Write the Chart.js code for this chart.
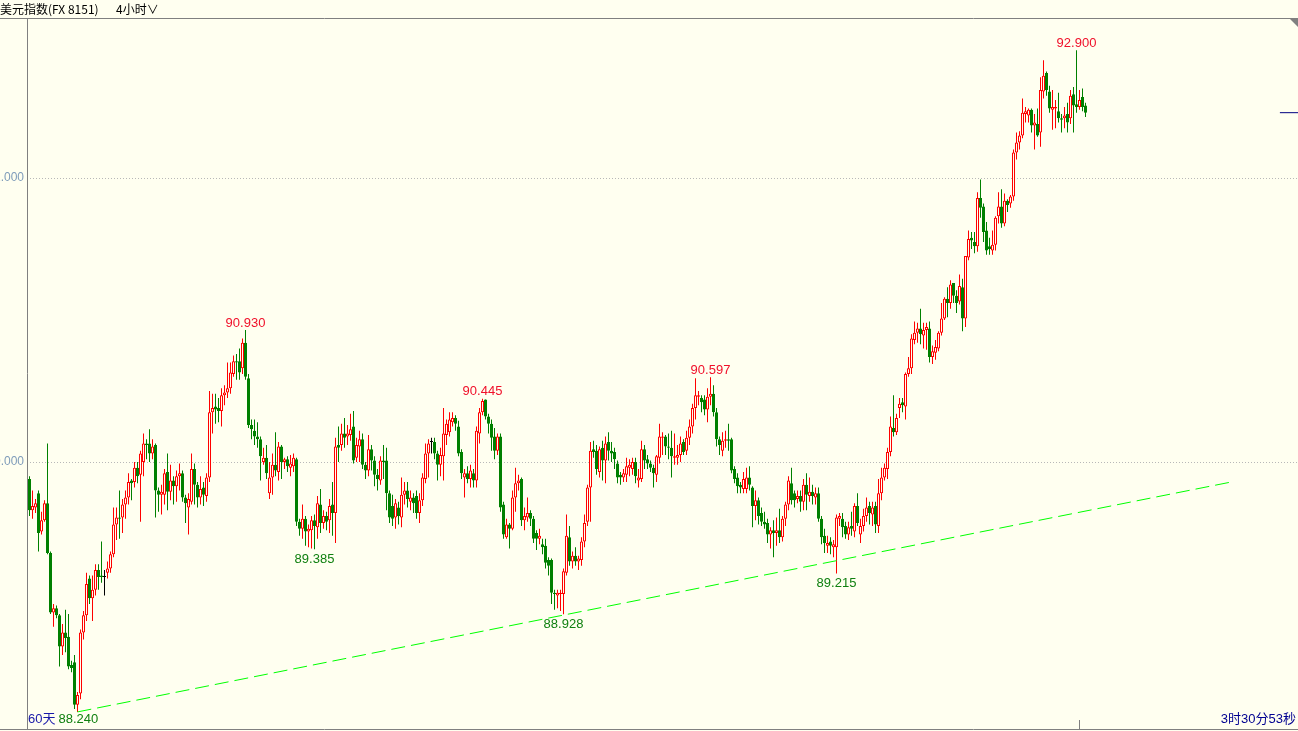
<!DOCTYPE html>
<html>
<head>
<meta charset="utf-8">
<title>美元指数 4小时</title>
<script src="https://cdn.jsdelivr.net/npm/chart.js@4.4.1/dist/chart.umd.min.js"></script>
<style>
  html, body { margin: 0; padding: 0; background: #fffff0; overflow: hidden; }
  canvas { display: block; }
</style>
</head>
<body>
<canvas id="kline" width="1298" height="731"></canvas>
<script>
// 4h candles of the dollar index, oldest first
const openPrices = [
  89.88, 89.66, 89.68, 89.78, 89.51, 89.59, 89.71, 89.36, 88.94, 88.97,
  88.92, 88.70, 88.80, 88.77, 88.57, 88.59, 88.29, 88.37, 88.80, 88.92,
  89.18, 89.04, 89.10, 89.24, 89.20, 89.19, 89.22, 89.25, 89.35, 89.56,
  89.61, 89.61, 89.70, 89.75, 89.87, 89.86, 89.96, 89.91, 90.00, 90.13,
  90.13, 90.06, 90.12, 89.80, 89.77, 89.77, 89.93, 89.79, 89.87, 89.83,
  89.90, 89.92, 89.75, 89.68, 89.72, 89.95, 89.84, 89.75, 89.82, 89.76,
  89.89, 90.35, 90.39, 90.38, 90.36, 90.47, 90.49, 90.52, 90.62, 90.71,
  90.71, 90.66, 90.84, 90.59, 90.26, 90.22, 90.18, 90.16, 90.00, 90.03,
  89.78, 89.89, 89.98, 89.93, 90.11, 90.00, 90.02, 89.96, 89.97, 90.02,
  89.58, 89.53, 89.60, 89.51, 89.52, 89.59, 89.54, 89.70, 89.57, 89.62,
  89.59, 89.70, 89.64, 90.12, 90.12, 90.20, 90.18, 90.19, 90.25, 90.03,
  90.11, 90.16, 89.98, 89.94, 90.09, 90.01, 89.91, 89.87, 90.01, 90.01,
  89.78, 89.69, 89.61, 89.68, 89.61, 89.77, 89.80, 89.72, 89.75, 89.76,
  89.64, 89.73, 89.88, 90.06, 90.14, 90.14, 90.06, 89.98, 90.04, 90.19,
  90.21, 90.28, 90.31, 90.25, 90.07, 89.89, 89.92, 89.88, 89.92, 89.87,
  90.20, 90.35, 90.44, 90.32, 90.27, 90.18, 90.08, 90.18, 89.70, 89.47,
  89.56, 89.53, 89.75, 89.85, 89.88, 89.59, 89.61, 89.64, 89.60, 89.50,
  89.46, 89.42, 89.41, 89.31, 89.31, 89.08, 89.06, 89.07, 89.07, 89.22,
  89.47, 89.30, 89.34, 89.30, 89.31, 89.44, 89.58, 89.82, 90.09, 90.08,
  89.93, 90.10, 90.01, 90.14, 90.08, 90.07, 89.99, 89.91, 89.89, 89.91,
  89.96, 89.95, 90.00, 89.87, 89.88, 90.09, 90.02, 89.99, 89.96, 89.91,
  90.03, 90.17, 90.18, 90.11, 90.10, 90.03, 90.03, 90.05, 90.14, 90.08,
  90.17, 90.25, 90.38, 90.46, 90.45, 90.44, 90.37, 90.46, 90.48, 90.35,
  90.16, 90.08, 90.15, 90.16, 90.16, 89.95, 89.89, 89.84, 89.81, 89.81,
  89.89, 89.82, 89.69, 89.73, 89.64, 89.58, 89.57, 89.49, 89.52, 89.50,
  89.52, 89.47, 89.60, 89.70, 89.85, 89.78, 89.74, 89.76, 89.72, 89.84,
  89.76, 89.79, 89.75, 89.78, 89.60, 89.48, 89.41, 89.44, 89.40,
  89.40, 89.60, 89.60, 89.55, 89.49, 89.55, 89.51, 89.69, 89.49, 89.55,
  89.62, 89.69, 89.63, 89.69, 89.55, 89.78, 89.89, 89.95, 90.07,
  90.24, 90.21, 90.38, 90.42, 90.39, 90.62, 90.66, 90.86, 90.91, 90.94,
  90.89, 90.93, 90.94, 90.74, 90.77, 90.80, 90.91, 91.01, 91.15, 91.12,
  91.26, 91.17, 91.13, 91.23, 91.01, 91.44, 91.58, 91.55, 91.52, 91.86,
  91.80, 91.63, 91.52, 91.49, 91.53, 91.73, 91.80, 91.68, 91.84, 91.82,
  91.87, 92.18, 92.25, 92.30, 92.45, 92.44, 92.48, 92.37, 92.38, 92.32,
  92.61, 92.74, 92.61, 92.48, 92.49, 92.47, 92.42, 92.42, 92.45, 92.42,
  92.59, 92.52, 92.50, 92.57, 92.51
];
const highPrices = [
  89.90, 89.80, 89.74, 89.80, 89.65, 89.73, 90.13, 89.37, 89.00, 88.99,
  88.93, 88.86, 88.96, 88.93, 88.60, 88.64, 88.38, 88.82, 88.95, 89.22,
  89.20, 89.20, 89.28, 89.28, 89.44, 89.24, 89.30, 89.37, 89.68, 89.68,
  89.80, 89.74, 89.80, 89.92, 89.88, 90.00, 90.00, 90.08, 90.20, 90.16,
  90.23, 90.16, 90.13, 89.82, 89.84, 89.95, 90.06, 89.98, 89.90, 89.94,
  89.99, 89.94, 89.77, 89.78, 90.06, 89.99, 89.86, 89.90, 89.86, 89.92,
  90.50, 90.48, 90.48, 90.45, 90.52, 90.54, 90.70, 90.70, 90.75, 90.76,
  90.80, 90.87, 90.93, 90.62, 90.30, 90.30, 90.28, 90.18, 90.10, 90.12,
  90.00, 90.06, 90.21, 90.14, 90.12, 90.03, 90.04, 90.05, 90.06, 90.03,
  89.60, 89.70, 89.62, 89.56, 89.62, 89.63, 89.76, 89.81, 89.66, 89.65,
  89.74, 89.86, 90.17, 90.25, 90.27, 90.31, 90.26, 90.34, 90.36, 90.17,
  90.22, 90.20, 90.00, 90.19, 90.12, 90.04, 89.95, 90.04, 90.12, 90.10,
  89.80, 89.77, 89.74, 89.72, 89.89, 89.86, 89.86, 89.80, 89.78, 89.80,
  89.78, 89.92, 90.13, 90.16, 90.17, 90.17, 90.08, 90.10, 90.38, 90.30,
  90.35, 90.35, 90.33, 90.29, 90.09, 89.95, 89.97, 89.98, 89.95, 90.25,
  90.38, 90.445, 90.44, 90.34, 90.30, 90.24, 90.20, 90.20, 89.72, 89.60,
  89.57, 89.80, 89.96, 89.91, 89.89, 89.68, 89.75, 89.66, 89.62, 89.52,
  89.53, 89.46, 89.46, 89.33, 89.32, 89.10, 89.10, 89.10, 89.25, 89.63,
  89.55, 89.37, 89.40, 89.34, 89.47, 89.63, 89.84, 90.14, 90.15, 90.12,
  90.11, 90.15, 90.18, 90.21, 90.14, 90.10, 90.01, 89.93, 89.95, 90.03,
  90.02, 90.03, 90.03, 89.95, 90.15, 90.12, 90.05, 90.01, 89.98, 90.05,
  90.27, 90.21, 90.19, 90.20, 90.22, 90.20, 90.12, 90.18, 90.16, 90.22,
  90.30, 90.41, 90.59, 90.50, 90.47, 90.47, 90.52, 90.597, 90.54, 90.38,
  90.18, 90.21, 90.22, 90.27, 90.17, 89.97, 89.92, 89.86, 89.93, 89.96,
  89.97, 89.83, 89.80, 89.75, 89.68, 89.65, 89.60, 89.54, 89.59, 89.61,
  89.67, 89.62, 89.72, 89.90, 89.96, 89.80, 89.80, 89.80, 89.88, 89.92,
  89.89, 89.84, 89.82, 89.82, 89.62, 89.53, 89.48, 89.47, 89.45,
  89.63, 89.64, 89.64, 89.58, 89.58, 89.65, 89.71, 89.78, 89.60, 89.67,
  89.75, 89.72, 89.72, 89.72, 89.88, 89.96, 89.99, 90.10, 90.32,
  90.47, 90.34, 90.45, 90.45, 90.63, 90.74, 90.90, 90.99, 90.98, 91.08,
  90.98, 90.98, 90.99, 90.82, 90.86, 90.92, 91.12, 91.16, 91.23, 91.28,
  91.26, 91.21, 91.32, 91.29, 91.45, 91.63, 91.62, 91.62, 91.90, 91.99,
  91.82, 91.69, 91.58, 91.63, 91.73, 91.90, 91.92, 91.89, 91.85, 91.88,
  92.20, 92.32, 92.33, 92.56, 92.50, 92.49, 92.49, 92.45, 92.49, 92.71,
  92.83, 92.75, 92.65, 92.62, 92.55, 92.60, 92.45, 92.50, 92.53, 92.62,
  92.64, 92.90, 92.62, 92.63, 92.53
];
const lowPrices = [
  89.62, 89.60, 89.64, 89.37, 89.49, 89.58, 89.35, 88.93, 88.84, 88.90,
  88.56, 88.64, 88.66, 88.54, 88.52, 88.26, 88.24, 88.33, 88.75, 88.88,
  89.00, 88.88, 89.06, 89.10, 89.15, 89.06, 89.18, 89.22, 89.33, 89.45,
  89.46, 89.50, 89.60, 89.70, 89.73, 89.82, 89.85, 89.58, 89.90, 90.02,
  90.00, 90.02, 89.61, 89.65, 89.63, 89.70, 89.66, 89.73, 89.70, 89.72,
  89.80, 89.72, 89.57, 89.49, 89.70, 89.70, 89.68, 89.70, 89.69, 89.72,
  89.86, 90.20, 90.27, 90.28, 90.25, 90.40, 90.45, 90.48, 90.60, 90.58,
  90.58, 90.62, 90.58, 90.24, 90.16, 90.12, 90.10, 89.87, 89.98, 89.88,
  89.74, 89.77, 89.90, 89.87, 89.88, 89.95, 89.93, 89.90, 89.93, 89.55,
  89.48, 89.46, 89.41, 89.40, 89.39, 89.385, 89.46, 89.50, 89.53, 89.52,
  89.50, 89.48, 89.43, 90.00, 90.08, 90.10, 90.12, 90.15, 89.99, 90.00,
  90.00, 89.95, 89.88, 89.90, 89.94, 89.83, 89.80, 89.84, 89.88, 89.66,
  89.57, 89.55, 89.53, 89.56, 89.54, 89.70, 89.68, 89.66, 89.64, 89.60,
  89.57, 89.69, 89.85, 89.89, 90.06, 90.02, 89.87, 89.90, 89.87, 90.12,
  90.18, 90.25, 90.22, 90.04, 89.88, 89.75, 89.85, 89.82, 89.82, 89.82,
  90.13, 90.33, 90.30, 90.20, 90.08, 90.02, 90.05, 89.65, 89.46, 89.46,
  89.39, 89.52, 89.65, 89.80, 89.55, 89.52, 89.58, 89.55, 89.43, 89.38,
  89.42, 89.35, 89.25, 89.20, 89.00, 88.96, 88.97, 88.95, 88.928, 89.20,
  89.27, 89.25, 89.27, 89.24, 89.27, 89.40, 89.55, 89.58, 90.03, 89.91,
  89.89, 89.87, 89.85, 90.01, 90.00, 89.95, 89.85, 89.84, 89.86, 89.86,
  89.90, 89.91, 89.85, 89.82, 89.86, 89.95, 89.95, 89.93, 89.82, 89.86,
  89.99, 90.05, 90.05, 90.02, 89.89, 89.98, 89.98, 90.00, 90.05, 90.05,
  90.12, 90.20, 90.30, 90.40, 90.35, 90.33, 90.28, 90.40, 90.32, 90.11,
  90.05, 90.04, 90.10, 90.08, 89.92, 89.85, 89.78, 89.78, 89.78, 89.78,
  89.80, 89.54, 89.59, 89.56, 89.55, 89.53, 89.43, 89.39, 89.33, 89.41,
  89.43, 89.44, 89.55, 89.66, 89.70, 89.68, 89.71, 89.65, 89.66, 89.66,
  89.72, 89.70, 89.70, 89.58, 89.42, 89.36, 89.36, 89.35, 89.33,
  89.215, 89.55, 89.47, 89.46, 89.45, 89.48, 89.47, 89.55, 89.43, 89.51,
  89.58, 89.56, 89.55, 89.50, 89.50, 89.73, 89.87, 89.88, 90.04,
  90.18, 90.19, 90.31, 90.35, 90.30, 90.60, 90.62, 90.83, 90.84, 90.83,
  90.80, 90.79, 90.70, 90.69, 90.72, 90.78, 90.89, 91.00, 91.02, 91.08,
  91.12, 91.05, 91.11, 90.92, 90.95, 91.42, 91.50, 91.47, 91.48, 91.72,
  91.55, 91.46, 91.46, 91.46, 91.49, 91.68, 91.65, 91.66, 91.76, 91.79,
  91.84, 92.13, 92.20, 92.28, 92.39, 92.39, 92.32, 92.20, 92.29, 92.22,
  92.56, 92.58, 92.46, 92.34, 92.35, 92.39, 92.32, 92.35, 92.32, 92.38,
  92.32, 92.46, 92.48, 92.47, 92.43
];
const closePrices = [
  89.66, 89.69, 89.71, 89.50, 89.59, 89.71, 89.36, 88.94, 88.97, 88.92,
  88.70, 88.80, 88.76, 88.56, 88.55, 88.29, 88.36, 88.80, 88.92, 89.14,
  89.04, 89.10, 89.24, 89.19, 89.19, 89.19, 89.25, 89.35, 89.56, 89.61,
  89.60, 89.70, 89.75, 89.86, 89.85, 89.96, 89.90, 90.06, 90.13, 90.12,
  90.06, 90.11, 89.80, 89.77, 89.79, 89.92, 89.79, 89.87, 89.83, 89.90,
  89.92, 89.75, 89.71, 89.74, 89.95, 89.84, 89.75, 89.81, 89.77, 89.89,
  90.35, 90.38, 90.37, 90.36, 90.47, 90.49, 90.52, 90.63, 90.71, 90.70,
  90.63, 90.84, 90.60, 90.26, 90.23, 90.18, 90.16, 90.04, 90.03, 89.92,
  89.89, 89.98, 89.94, 90.11, 90.00, 90.02, 89.97, 89.99, 90.03, 89.58,
  89.53, 89.60, 89.51, 89.53, 89.59, 89.55, 89.71, 89.57, 89.62, 89.58,
  89.69, 89.64, 90.11, 90.10, 90.20, 90.17, 90.20, 90.23, 90.01, 90.12,
  90.16, 89.98, 89.94, 90.09, 90.01, 89.91, 89.88, 90.01, 90.00, 89.78,
  89.61, 89.60, 89.71, 89.62, 89.77, 89.80, 89.74, 89.75, 89.71, 89.64,
  89.73, 89.89, 90.06, 90.13, 90.14, 90.06, 89.98, 90.05, 90.20, 90.27,
  90.30, 90.31, 90.27, 90.06, 89.92, 89.92, 89.88, 89.94, 89.87, 90.22,
  90.35, 90.43, 90.32, 90.27, 90.17, 90.08, 90.18, 89.68, 89.49, 89.56,
  89.53, 89.75, 89.85, 89.87, 89.59, 89.62, 89.64, 89.60, 89.46, 89.46,
  89.48, 89.40, 89.29, 89.27, 89.08, 89.07, 89.08, 89.08, 89.23, 89.48,
  89.30, 89.34, 89.30, 89.32, 89.44, 89.57, 89.82, 90.08, 90.07, 89.95,
  90.09, 90.01, 90.13, 90.08, 90.06, 90.02, 89.89, 89.89, 89.92, 89.97,
  89.98, 90.00, 89.90, 89.89, 90.09, 90.01, 89.99, 89.96, 89.92, 90.04,
  90.18, 90.18, 90.11, 90.10, 90.04, 90.04, 90.05, 90.13, 90.07, 90.17,
  90.25, 90.38, 90.47, 90.47, 90.42, 90.37, 90.46, 90.48, 90.35, 90.16,
  90.12, 90.15, 90.16, 90.15, 89.94, 89.88, 89.83, 89.82, 89.88, 89.89,
  89.84, 89.69, 89.73, 89.62, 89.58, 89.56, 89.49, 89.52, 89.50, 89.52,
  89.47, 89.60, 89.70, 89.87, 89.73, 89.73, 89.76, 89.72, 89.84, 89.77,
  89.79, 89.76, 89.78, 89.60, 89.47, 89.43, 89.43, 89.41, 89.42,
  89.61, 89.62, 89.54, 89.49, 89.54, 89.53, 89.69, 89.57, 89.55, 89.62,
  89.68, 89.64, 89.68, 89.56, 89.78, 89.89, 89.96, 90.07, 90.25,
  90.21, 90.31, 90.41, 90.40, 90.62, 90.66, 90.87, 90.91, 90.94, 90.90,
  90.93, 90.95, 90.74, 90.78, 90.81, 90.91, 91.01, 91.15, 91.12, 91.25,
  91.17, 91.12, 91.24, 91.01, 91.45, 91.57, 91.56, 91.52, 91.86, 91.79,
  91.62, 91.49, 91.50, 91.53, 91.72, 91.80, 91.68, 91.84, 91.81, 91.87,
  92.18, 92.25, 92.30, 92.46, 92.47, 92.48, 92.37, 92.39, 92.30, 92.62,
  92.72, 92.62, 92.49, 92.50, 92.50, 92.42, 92.41, 92.44, 92.39, 92.58,
  92.51, 92.50, 92.55, 92.50, 92.46
];
// candles whose high / low carries a price label
const markedHighs = [72, 151, 227, 349];
const markedLows = [95, 178, 269];
// support line from the 88.240 low
const trendStart = { x: 16, y: 88.24 };
const trendEnd = { x: 400.8, y: 89.86 };
const gridLevels = [90, 92];
const titleText = '美元指数(FX 8151)\u3000  4小时∨';
const rangeText = '60天';
const countdownText = '3时30分53秒';
const cursorIndex = 350;

const BG = '#fffff0';
const UP = '#ff0000';
const DOWN = '#008000';
const FLAT = '#000000';
const NUM_FONT = '13px "Liberation Sans", "Noto Sans CJK SC", sans-serif';

function candleColor(i) {
    if (closePrices[i] > openPrices[i]) return UP;
    if (closePrices[i] < openPrices[i]) return DOWN;
    return FLAT;
}
function bodyFill(i) {
    return closePrices[i] > openPrices[i] ? BG : candleColor(i);
}

const n = closePrices.length;
const xMin = -2.5 / 3;
const xMax = xMin + 1271 / 3;
const lastClose = closePrices[n - 1];

const wickData = closePrices.map((c, i) => ({
    x: i,
    y: [Math.min(lowPrices[i], openPrices[i], c), Math.max(highPrices[i], openPrices[i], c)]
}));
const bodyData = closePrices.map((c, i) => ({ x: i, y: [openPrices[i], c] }));

// frame, corner mark and price texts
const framePlugin = {
    id: 'frame',
    beforeDraw(chart) {
        const { ctx, width, height } = chart;
        ctx.save();
        ctx.fillStyle = BG;
        ctx.fillRect(0, 0, width, height);
        ctx.restore();
    },
    afterDraw(chart) {
        const { ctx, width, chartArea: a, scales } = chart;
        const xs = scales.x, ys = scales.y;
        ctx.save();
        ctx.strokeStyle = '#808080';
        ctx.lineWidth = 1;
        ctx.beginPath();
        ctx.moveTo(0, a.top + 0.5); ctx.lineTo(width, a.top + 0.5);
        ctx.moveTo(a.left + 0.5, a.top); ctx.lineTo(a.left + 0.5, a.bottom);
        ctx.moveTo(0, a.bottom + 0.5); ctx.lineTo(width, a.bottom + 0.5);
        const cx = Math.floor(xs.getPixelForValue(cursorIndex)) + 0.5;
        ctx.moveTo(cx, a.bottom - 9); ctx.lineTo(cx, a.bottom);
        ctx.stroke();
        ctx.fillStyle = '#808080';
        ctx.beginPath();
        ctx.moveTo(width - 9, a.top); ctx.lineTo(width, a.top); ctx.lineTo(width, a.top + 9);
        ctx.closePath();
        ctx.fill();

        ctx.font = NUM_FONT;
        ctx.textAlign = 'center';
        ctx.textBaseline = 'middle';
        ctx.fillStyle = '#f0102a';
        markedHighs.forEach(i => {
            ctx.fillText(highPrices[i].toFixed(3), xs.getPixelForValue(i), ys.getPixelForValue(highPrices[i]) - 7);
        });
        ctx.fillStyle = '#108010';
        markedLows.forEach(i => {
            ctx.fillText(lowPrices[i].toFixed(3), xs.getPixelForValue(i), ys.getPixelForValue(lowPrices[i]) + 10);
        });

        // bottom line texts
        const ty = a.bottom - 10;
        ctx.textAlign = 'left';
        ctx.fillStyle = '#1818a8';
        ctx.fillText(rangeText, a.left + 1, ty);
        const w = ctx.measureText(rangeText).width;
        ctx.fillStyle = '#108010';
        ctx.fillText(Math.min(...lowPrices).toFixed(3), a.left + w + 4, ty);
        ctx.textAlign = 'right';
        ctx.fillStyle = '#000090';
        ctx.fillText(countdownText, width - 2, ty);
        ctx.restore();
    }
};

new Chart(document.getElementById('kline'), {
    type: 'bar',
    data: {
        datasets: [
            {
                data: wickData,
                order: 3,
                grouped: false,
                barThickness: 1,
                maxBarThickness: 1,
                inflateAmount: 0,
                borderWidth: 0,
                backgroundColor: ctx => candleColor(ctx.dataIndex)
            },
            {
                data: bodyData,
                order: 2,
                grouped: false,
                barThickness: 3,
                maxBarThickness: 3,
                inflateAmount: 0,
                minBarLength: 1,
                borderWidth: 1,
                borderSkipped: false,
                borderColor: ctx => candleColor(ctx.dataIndex),
                backgroundColor: ctx => bodyFill(ctx.dataIndex)
            },
            {
                type: 'line',
                data: [trendStart, trendEnd],
                order: 1,
                borderColor: '#00ff00',
                borderWidth: 1,
                borderDash: [14, 6],
                pointRadius: 0,
                fill: false
            },
            {
                type: 'line',
                data: [{ x: 416.8, y: lastClose }, { x: xMax, y: lastClose }],
                order: 1,
                borderColor: '#000080',
                borderWidth: 1,
                pointRadius: 0,
                fill: false
            }
        ]
    },
    options: {
        responsive: false,
        devicePixelRatio: 1,
        animation: false,
        layout: { padding: { left: 0, right: 0, top: 0, bottom: 2 } },
        plugins: {
            legend: { display: false },
            tooltip: { enabled: false },
            title: {
                display: true,
                text: titleText,
                align: 'start',
                color: '#000000',
                padding: { top: 0, bottom: 0 },
                font: { family: '"Noto Sans CJK SC", sans-serif', size: 12, weight: 'normal', lineHeight: 1.5 }
            }
        },
        scales: {
            x: {
                type: 'linear',
                display: false,
                offset: false,
                min: xMin,
                max: xMax
            },
            y: {
                type: 'linear',
                position: 'left',
                min: 88.1197,
                max: 93.1268,
                afterBuildTicks: s => { s.ticks = gridLevels.map(v => ({ value: v })); },
                // fixed 27px label strip, no extra room for end labels
                afterFit: s => { s.width = 27; s.paddingTop = 0; s.paddingBottom = 0; },
                ticks: {
                    padding: 3,
                    color: '#7f9cba',
                    font: { family: '"Liberation Sans", sans-serif', size: 12 },
                    callback: v => Number(v).toFixed(3)
                },
                grid: { color: '#b8b8b8', lineWidth: 1, drawTicks: false },
                border: { display: false, dash: [1, 2] }
            }
        }
    },
    plugins: [framePlugin]
});
</script>
</body>
</html>
